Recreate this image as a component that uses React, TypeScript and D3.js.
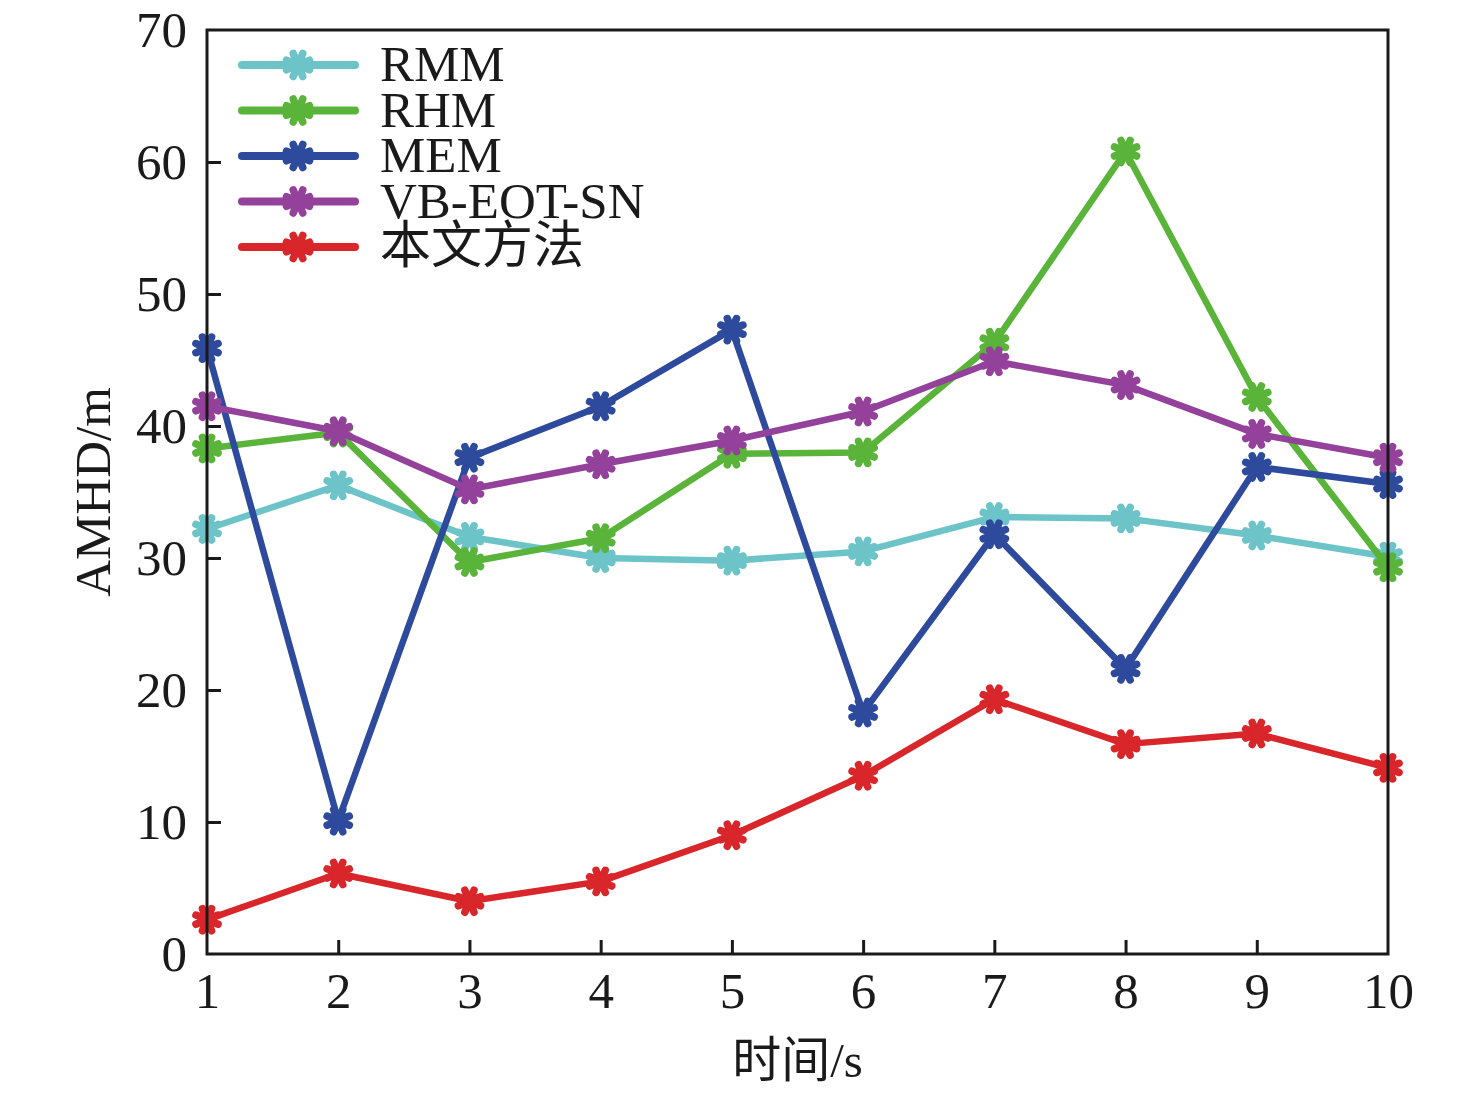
import React, { useEffect, useRef } from 'react'
import { select, scaleLinear, axisLeft, axisBottom, line } from 'd3'

const times = [1, 2, 3, 4, 5, 6, 7, 8, 9, 10]
const yTicks = [0, 10, 20, 30, 40, 50, 60, 70]

const rmm = [32.2, 35.5, 31.6, 30.0, 29.8, 30.5, 33.1, 33.0, 31.7, 30.1]
const rhm = [38.3, 39.5, 29.7, 31.5, 37.9, 38.0, 46.3, 60.8, 42.2, 29.3]
const mem = [45.9, 10.1, 37.6, 41.5, 47.3, 18.3, 31.8, 21.6, 36.9, 35.6]
const vbEotSn = [41.5, 39.6, 35.2, 37.1, 38.9, 41.1, 44.9, 43.1, 39.4, 37.6]
const ours = [2.6, 6.1, 4.0, 5.5, 9.0, 13.5, 19.3, 15.9, 16.7, 14.1]

const series = [
  { name: 'RMM', values: rmm, color: '#6cc4c8' },
  { name: 'RHM', values: rhm, color: '#5ab43a' },
  { name: 'MEM', values: mem, color: '#2e4a9c' },
  { name: 'VB-EOT-SN', values: vbEotSn, color: '#93419a' },
  { name: '本文方法', values: ours, color: '#d9262a' },
]

const W = 1476
const H = 1094
const margin = { left: 207, right: 88, top: 30, bottom: 140 }
const serif = '"Liberation Serif", "Times New Roman", serif'
const cjk = '"Liberation Serif", "Noto Sans CJK SC", serif'

// 8-spoke asterisk marker
const star = (r: number) => {
  const d: string[] = []
  for (let i = 0; i < 4; i++) {
    const a = (i * Math.PI) / 4 + Math.PI / 8
    const dx = r * Math.cos(a)
    const dy = r * Math.sin(a)
    d.push(`M${-dx},${-dy}L${dx},${dy}`)
  }
  return d.join('')
}

export default function App() {
  const svgRef = useRef<SVGSVGElement | null>(null)

  useEffect(() => {
    if (!svgRef.current) return
    const svg = select(svgRef.current)
    svg.selectAll('*').remove()

    const x = scaleLinear().domain([1, 10]).range([margin.left, W - margin.right])
    const y = scaleLinear().domain([0, 70]).range([H - margin.bottom, margin.top])

    const plot = svg.append('g')

    const lineGen = line<number>()
      .x((_, i) => x(times[i]))
      .y(d => y(d))

    series.forEach(s => {
      const g = plot.append('g')
      g.append('path')
        .attr('d', lineGen(s.values))
        .attr('fill', 'none')
        .attr('stroke', s.color)
        .attr('stroke-width', 6.5)
        .attr('stroke-linejoin', 'round')
      g.selectAll('path.mk')
        .data(s.values)
        .join('path')
        .attr('class', 'mk')
        .attr('d', star(12))
        .attr('transform', (d, i) => `translate(${x(times[i])},${y(d)})`)
        .attr('stroke', s.color)
        .attr('stroke-width', 7.5)
        .attr('stroke-linecap', 'round')
        .attr('fill', 'none')
      g.selectAll('circle.mk')
        .data(s.values)
        .join('circle')
        .attr('class', 'mk')
        .attr('cx', (_, i) => x(times[i]))
        .attr('cy', d => y(d))
        .attr('r', 8)
        .attr('fill', s.color)
    })

    // frame
    svg.append('rect')
      .attr('x', x(1))
      .attr('y', y(70))
      .attr('width', x(10) - x(1))
      .attr('height', y(0) - y(70))
      .attr('fill', 'none')
      .attr('stroke', '#1a1a1a')
      .attr('stroke-width', 3)

    const yAxis = svg.append('g')
      .attr('transform', `translate(${x(1)},0)`)
      .call(axisLeft(y).tickValues(yTicks).tickSize(-14).tickPadding(20))
    const xAxis = svg.append('g')
      .attr('transform', `translate(0,${y(0)})`)
      .call(axisBottom(x).tickValues(times).tickSize(-14).tickPadding(14))

    ;[xAxis, yAxis].forEach(a => {
      a.select('.domain').remove()
      a.selectAll('line').attr('stroke', '#1a1a1a').attr('stroke-width', 3)
      a.selectAll('text')
        .attr('fill', '#1a1a1a')
        .style('font-family', serif)
        .style('font-size', '51px')
    })
    yAxis.selectAll('.tick')
      .filter(d => d === 0 || d === 70)
      .select('line').remove()
    xAxis.selectAll('.tick')
      .filter(d => d === 1 || d === 10)
      .select('line').remove()
    xAxis.selectAll('text').attr('dy', '0.78em')

    // axis titles
    svg.append('text')
      .attr('x', (x(1) + x(10)) / 2)
      .attr('y', 1077)
      .attr('text-anchor', 'middle')
      .attr('fill', '#1a1a1a')
      .style('font-family', cjk)
      .style('font-size', '49px')
      .text('时间/s')

    svg.append('text')
      .attr('transform', `translate(110,${(y(0) + y(70)) / 2}) rotate(-90)`)
      .attr('text-anchor', 'middle')
      .attr('fill', '#1a1a1a')
      .style('font-family', serif)
      .style('font-size', '51px')
      .text('AMHD/m')

    // legend
    const legend = svg.append('g').attr('transform', 'translate(242,65)')
    series.forEach((s, i) => {
      const row = legend.append('g').attr('transform', `translate(0,${i * 45.5})`)
      row.append('line')
        .attr('x1', 0).attr('x2', 113)
        .attr('stroke', s.color)
        .attr('stroke-width', 8)
        .attr('stroke-linecap', 'round')
      row.append('path')
        .attr('d', star(12.5))
        .attr('transform', 'translate(56,0)')
        .attr('stroke', s.color)
        .attr('stroke-width', 7.5)
        .attr('stroke-linecap', 'round')
      row.append('circle')
        .attr('cx', 56)
        .attr('r', 8.5)
        .attr('fill', s.color)
      row.append('text')
        .attr('x', 138)
        .attr('y', 16)
        .attr('fill', '#1a1a1a')
        .style('font-family', cjk)
        .style('font-size', '51px')
        .text(s.name)
    })
  }, [])

  return (
    <svg
      ref={svgRef}
      width={W}
      height={H}
      style={{ position: 'absolute', left: 0, top: 0, background: '#fff' }}
    />
  )
}
